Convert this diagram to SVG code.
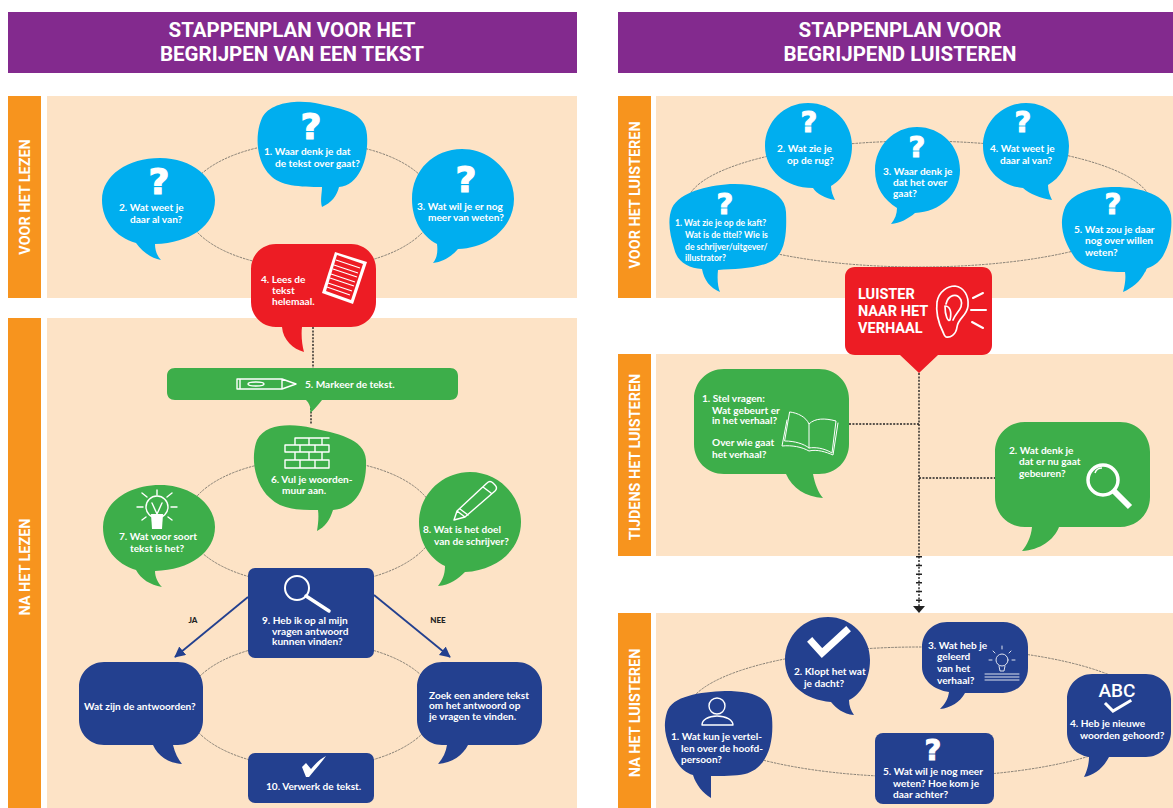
<svg xmlns="http://www.w3.org/2000/svg" width="1173" height="808" viewBox="0 0 1173 808">
<style>
.t{font-family:"Lato","Liberation Sans",sans-serif;font-weight:700;font-size:10.1px;fill:#fff}
.h{font-family:"Roboto","Liberation Sans",sans-serif;font-weight:700;font-size:20.5px;fill:#fff;text-anchor:middle}
.s{font-family:"Roboto","Liberation Sans",sans-serif;font-weight:700;font-size:14.4px;fill:#fff;text-anchor:middle}
.q{font-family:"DejaVu Sans",sans-serif;font-weight:700;font-size:36px;fill:#fff;text-anchor:middle;stroke:#fff;stroke-width:1.2}
.qs{font-size:29px;stroke-width:1}
.j{font-family:"Lato","Liberation Sans",sans-serif;font-weight:900;font-size:8px;fill:#222;text-anchor:middle}
.cy{fill:#00aeef}.rd{fill:#ed1c24}.gr{fill:#3dae4a}.nv{fill:#23408f}
.pe{fill:#fde3c6}.or{fill:#f7941e}.pu{fill:#832a8e}
.el{fill:none;stroke:#77736a;stroke-width:.9;stroke-dasharray:2.5 1}
.dt{fill:none;stroke:#222;stroke-width:1.4;stroke-dasharray:2 1.4}
.ar{fill:none;stroke:#23408f;stroke-width:1.8;marker-end:url(#ah)}
.i{fill:none;stroke:#fff;stroke-width:1.4;stroke-linecap:round;stroke-linejoin:round}
.ck{fill:none;stroke:#fff;stroke-linecap:square;stroke-linejoin:miter}
.sm{font-size:8.6px}
</style>
<defs>
<marker id="ah" markerWidth="7" markerHeight="7" refX="5.5" refY="3" orient="auto"><path d="M0,0L6,3L0,6Z" fill="#23408f"/></marker>
</defs>
<g id="panels">
<rect class="pu" x="8" y="12" width="569" height="61"/>
<rect class="pu" x="618" y="12" width="555" height="61"/>
<text class="h" x="292" y="37">STAPPENPLAN VOOR HET</text>
<text class="h" x="292" y="61">BEGRIJPEN VAN EEN TEKST</text>
<text class="h" x="900" y="37">STAPPENPLAN VOOR</text>
<text class="h" x="900" y="61">BEGRIJPEND LUISTEREN</text>
<rect class="or" x="8" y="96" width="33" height="202"/><rect class="pe" x="47" y="96" width="530" height="202"/>
<rect class="or" x="8" y="318" width="33" height="490"/><rect class="pe" x="47" y="318" width="530" height="490"/>
<rect class="or" x="618" y="96" width="33" height="202"/><rect class="pe" x="656" y="96" width="517" height="202"/>
<rect class="or" x="618" y="354" width="33" height="202"/><rect class="pe" x="656" y="354" width="517" height="202"/>
<rect class="or" x="618" y="613" width="33" height="195"/><rect class="pe" x="656" y="613" width="517" height="195"/>
<text class="s" transform="translate(30,197) rotate(-90)">VOOR HET LEZEN</text>
<text class="s" transform="translate(30,567) rotate(-90)">NA HET LEZEN</text>
<text class="s" transform="translate(640,195) rotate(-90)">VOOR HET LUISTEREN</text>
<text class="s" transform="translate(640,457) rotate(-90)">TIJDENS HET LUISTEREN</text>
<text class="s" transform="translate(640,713) rotate(-90)">NA HET LUISTEREN</text>
</g>
<g id="connectors">
<ellipse class="el" cx="310" cy="205" rx="125" ry="63"/>
<ellipse class="el" cx="311" cy="522" rx="125" ry="63"/>
<ellipse class="el" cx="311" cy="705" rx="125" ry="63"/>
<ellipse class="el" cx="919" cy="204" rx="232" ry="63"/>
<ellipse class="el" cx="919" cy="712" rx="232" ry="65"/>
<path class="dt" d="M313,327V368M311,408V425"/>
<path class="dt" d="M919,373V606M849,424H919M919,478H995"/>
<path d="M919,556V604" fill="none" stroke="#222" stroke-width="6" stroke-dasharray="1.5 7.2"/>
<path d="M913,606H925L919,613Z" fill="#222"/>
<path class="ar" d="M248,597L175,657"/>
<path class="ar" d="M374,595L450,657"/>
<text class="j" x="193" y="623">JA</text>
<text class="j" x="438" y="623">NEE</text>
</g>
<g id="l1"><path class="cy" d="M262,118C270,102 298,99 320,104C342,109 366,112 367,135C369,160 358,186 339,187C337,196 331,203 322,207C320,200 322,193 322,187C300,187 280,186 270,175C257,162 254,136 262,118Z"/>
<text class="q" x="311" y="139">?</text><text class="t" x="264" y="155">1. Waar denk je dat</text><text class="t" x="275" y="167">de tekst over gaat?</text></g>
<g id="l2"><path class="cy" d="M102,200C102,175 128,158 160,158C192,158 215,178 215,200C215,226 190,243 155,244C155,250 157,256 161,260C150,258 142,251 136,243C115,237 102,220 102,200Z"/>
<text class="q" x="159" y="194">?</text><text class="t" x="119" y="211">2. Wat weet je</text><text class="t" x="130" y="223">daar al van?</text></g>
<g id="l3"><path class="cy" d="M412,199C412,170 434,149 462,149C490,149 514,172 514,199C514,226 490,248 458,249C452,256 443,262 433,263C437,258 438,252 437,244C422,236 412,220 412,199Z"/>
<text class="q" x="466" y="192">?</text><text class="t" x="417" y="210">3. Wat wil je er nog</text><text class="t" x="428" y="221">meer van weten?</text></g>
<g id="l4"><path class="rd" d="M276,244H351C365,244 376,255 376,269V302C376,316 365,327 351,327H302C301,335 302,345 304,352C293,349 283,340 282,327H276C262,327 251,316 251,302V269C251,255 262,244 276,244Z"/>
<text class="t" x="261" y="283">4. Lees de</text><text class="t" x="272" y="294">tekst</text><text class="t" x="272" y="305">helemaal.</text>
<path d="M335,252L367,262L353,304L322,293Z" fill="#fff"/>
<path d="M337,255L363,264L351,300L326,291Z" fill="#ed1c24"/>
<path d="M336,260L360,268M334,265L358,273M333,269L357,277M331,274L355,282M330,278L354,286M328,283L352,291M327,287L350,295" stroke="#fff" stroke-width="1.2" fill="none"/></g>
<g id="l5"><path class="gr" d="M175,368H450C455,368 458,371 458,376V392C458,397 455,400 450,400H322C318,405 314,410 310,413C311,408 310,404 306,400H175C170,400 167,397 167,392V376C167,371 170,368 175,368Z"/>
<path class="i" d="M237,379H282L296,384L282,389H237Z M240,379V389M282,379V389"/>
<ellipse cx="256" cy="384" rx="8" ry="2" class="i"/>
<text class="t" x="305" y="388">5. Markeer de tekst.</text></g>
<g id="l6"><path class="gr" d="M257,440C265,424 290,423 312,428C335,433 365,438 366,460C367,485 358,508 333,510C330,520 325,527 317,531C318,525 319,517 318,510C300,510 282,510 270,498C255,485 250,458 257,440Z"/>
<path class="i" d="M295,438H329M295,438V445H322V438M309,438V445M285,445H329V452H285ZM300,445V452M315,445V452M295,452V460H322V452M309,452V460M285,460H329V468H285ZM300,460V468M315,460V468"/>
<text class="t" x="271" y="483">6. Vul je woorden-</text><text class="t" x="282" y="494">muur aan.</text></g>
<g id="l7"><path class="gr" d="M103,527C103,503 128,485 160,485C192,485 215,505 215,527C215,552 190,570 155,571C155,577 158,583 162,587C150,585 141,579 136,570C116,564 103,548 103,527Z"/>
<circle class="i" cx="157" cy="507" r="11"/><path d="M151,514L163,514L162,529H152Z" fill="#fff"/><path class="i" d="M152,503L157,514L162,503M143,507H137M177,507H171M147,497L142,493M167,497L172,493M157,495V490M146,517L142,520M168,517L172,520"/>
<text class="t" x="119" y="540">7. Wat voor soort</text><text class="t" x="130" y="552">tekst is het?</text></g>
<g id="l8"><path class="gr" d="M419,522C419,495 442,472 470,472C498,472 521,495 521,522C521,549 498,570 465,572C458,579 450,585 438,586C442,581 445,575 445,566C429,558 419,542 419,522Z"/>
<path class="i" d="M454,520L457,511L487,483C489,481 491,481 493,483L495,485C497,487 497,489 495,491L465,517ZM457,511L465,517M460,509L468,515M483,487L491,493"/>
<text class="t" x="423" y="533">8. Wat is het doel</text><text class="t" x="434" y="545">van de schrijver?</text></g>
<g id="l9"><rect class="nv" x="248" y="568" width="126" height="90" rx="7"/>
<circle cx="297" cy="588" r="12" fill="none" stroke="#fff" stroke-width="2"/><path d="M306,596L329,611" stroke="#fff" stroke-width="3.5" stroke-linecap="round"/>
<text class="t" x="262" y="624">9. Heb ik op al mijn</text><text class="t" x="272" y="635">vragen antwoord</text><text class="t" x="272" y="645">kunnen vinden?</text></g>
<g id="l9a"><path class="nv" d="M104,662H178C192,662 203,673 203,687V720C203,734 192,745 178,745H173C175,753 178,759 182,764C168,763 158,756 153,745H104C90,745 79,734 79,720V687C79,673 90,662 104,662Z"/>
<text class="t" x="84" y="710">Wat zijn de antwoorden?</text></g>
<g id="l9b"><path class="nv" d="M442,662H517C531,662 542,673 542,687V720C542,734 531,745 517,745H468C463,755 452,763 438,764C443,758 446,752 447,745H442C428,745 417,734 417,720V687C417,673 428,662 442,662Z"/>
<text class="t" x="429" y="699">Zoek een andere tekst</text><text class="t" x="429" y="709">om het antwoord op</text><text class="t" x="429" y="720">je vragen te vinden.</text></g>
<g id="l10"><rect class="nv" x="248" y="753" width="126" height="50" rx="7"/>
<path d="M302,767L306,763L311,769C315,764 320,759 326,756C321,763 314,771 309,777H306Z" fill="#fff"/>
<text class="t" x="266" y="790">10. Verwerk de tekst.</text></g>
<g id="r1"><path class="cy" d="M672,208C680,192 706,186 730,184C755,183 785,190 786,212C787,235 785,255 770,262C755,269 735,269 718,270C717,280 718,287 720,292C710,288 704,280 702,269C688,268 677,262 674,248C670,235 667,220 672,208Z"/>
<text class="q qs" x="725" y="214">?</text><text class="t sm" x="675" y="226">1. Wat zie je op de kaft?</text><text class="t sm" x="685" y="238">Wat is de titel? Wie is</text><text class="t sm" x="685" y="250">de schrijver/uitgever/</text><text class="t sm" x="685" y="261">illustrator?</text></g>
<g id="r2"><path class="cy" d="M765,146C765,122 784,103 808,103C833,103 852,122 852,146C852,165 842,180 831,186C831,191 833,196 835,200C825,198 817,194 813,188C785,188 765,170 765,146Z"/>
<text class="q qs" x="809" y="132">?</text><text class="t" x="777" y="152">2. Wat zie je</text><text class="t" x="787" y="164">op de rug?</text></g>
<g id="r3"><path class="cy" d="M875,170C875,146 894,127 917,127C941,127 960,146 960,170C960,194 940,212 915,213C908,219 900,223 891,224C895,219 897,214 897,208C884,200 875,187 875,170Z"/>
<text class="q qs" x="917" y="157">?</text><text class="t" x="883" y="175">3. Waar denk je</text><text class="t" x="893" y="186">dat het over</text><text class="t" x="893" y="197">gaat?</text></g>
<g id="r4"><path class="cy" d="M983,146C983,122 1002,103 1026,103C1050,103 1069,122 1069,146C1069,165 1060,178 1048,185C1048,191 1050,196 1052,200C1040,198 1030,194 1023,188C1000,186 983,168 983,146Z"/>
<text class="q qs" x="1023" y="132">?</text><text class="t" x="990" y="152">4. Wat weet je</text><text class="t" x="1000" y="164">daar al van?</text></g>
<g id="r5"><path class="cy" d="M1064,210C1070,192 1095,187 1115,187C1140,187 1168,195 1171,215C1173,232 1168,262 1148,268C1146,268 1146,272 1145,272C1140,282 1132,288 1123,292C1125,285 1126,278 1125,272C1105,272 1085,270 1075,258C1066,245 1058,228 1064,210Z"/>
<text class="q qs" x="1113" y="214">?</text><text class="t" x="1074" y="233">5. Wat zou je daar</text><text class="t" x="1085" y="244">nog over willen</text><text class="t" x="1085" y="256">weten?</text></g>
<g id="rred"><path class="rd" d="M855,267H982C988,267 992,271 992,277V345C992,351 988,355 982,355H938L919,373L900,355H855C849,355 845,351 845,345V277C845,271 849,267 855,267Z"/>
<text class="h" x="858" y="299" style="text-anchor:start;font-size:14.5px">LUISTER</text><text class="h" x="858" y="316" style="text-anchor:start;font-size:14.5px">NAAR HET</text><text class="h" x="858" y="333" style="text-anchor:start;font-size:14.5px">VERHAAL</text>
<path class="i" d="M943,332C938,322 936,310 937,302C939,291 948,286 955,286C964,287 969,296 968,306C967,316 958,318 957,327C956,335 950,338 946,337C944,336 944,334 943,332ZM946,304C948,295 957,292 961,300C964,308 956,312 953,320M945,306C950,306 952,312 950,320C948,322 945,316 945,306Z" style="stroke-width:1.7"/>
<path class="i" d="M973,298L983,293M971,310H986M972,322L983,328" style="stroke-width:2"/></g>
<g id="rt1"><path class="gr" d="M724,369H819C836,369 849,382 849,399V444C849,461 836,474 819,474H813C815,484 818,492 823,498C806,497 792,488 786,474H724C707,474 694,461 694,444V399C694,382 707,369 724,369Z"/>
<text class="t" x="702" y="402">1. Stel vragen:</text><text class="t" x="712" y="414">Wat gebeurt er</text><text class="t" x="712" y="424">in het verhaal?</text><text class="t" x="712" y="446">Over wie gaat</text><text class="t" x="712" y="458">het verhaal?</text>
<path class="i" d="M790,412C798,413 806,417 809,424C815,418 825,418 836,421L832,453C824,448 815,447 809,448C804,444 795,441 785,441ZM809,424V448M787,420L782,446C792,445 802,447 809,451C817,449 826,452 833,455L838,423" style="stroke-width:1"/></g>
<g id="rt2"><path class="gr" d="M1025,422H1120C1137,422 1150,435 1150,452V497C1150,514 1137,527 1120,527H1059C1054,540 1040,550 1022,551C1027,545 1031,537 1032,527H1025C1008,527 995,514 995,497V452C995,435 1008,422 1025,422Z"/>
<text class="t" x="1009" y="454">2. Wat denk je</text><text class="t" x="1019" y="465">dat er nu gaat</text><text class="t" x="1019" y="477">gebeuren?</text>
<circle cx="1103" cy="480" r="15" fill="none" stroke="#fff" stroke-width="3.5"/><path d="M1095,473C1096,470 1099,468 1102,468" fill="none" stroke="#fff" stroke-width="1.5"/><path d="M1114,491L1130,507" stroke="#fff" stroke-width="6"/></g>
<g id="rn1"><path class="nv" d="M667,712C672,696 700,692 725,691C750,691 770,695 772,718C774,742 768,768 745,774C735,776 722,776 711,776C711,785 711,792 711,798C703,793 696,785 693,775C682,772 675,762 670,748C665,735 663,725 667,712Z"/>
<circle class="i" cx="717" cy="706" r="8"/><path class="i" d="M702,725C702,720 708,716 717,716C726,716 733,720 733,725Z"/>
<text class="t" x="671" y="740">1. Wat kun je vertel-</text><text class="t" x="681" y="752">len over de hoofd-</text><text class="t" x="681" y="763">persoon?</text></g>
<g id="rn2"><path class="nv" d="M785,660C785,636 804,617 828,617C851,617 870,636 870,660C870,680 860,695 849,700C849,706 851,711 854,715C843,714 836,708 831,702C805,700 785,684 785,660Z"/>
<path class="ck" d="M812,642L822,653L846,631" stroke-width="7"/>
<text class="t" x="794" y="675">2. Klopt het wat</text><text class="t" x="804" y="687">je dacht?</text></g>
<g id="rn3"><path class="nv" d="M947,622H1003C1017,622 1028,633 1028,647V668C1028,682 1017,693 1003,693H965C960,702 951,708 940,709C945,704 948,699 949,692C934,690 922,680 922,667V647C922,633 933,622 947,622Z"/>
<text class="t" x="928" y="649">3. Wat heb je</text><text class="t" x="937" y="660">geleerd</text><text class="t" x="937" y="672">van het</text><text class="t" x="937" y="684">verhaal?</text>
<g style="opacity:.85"><circle class="i" cx="1002" cy="660" r="6" style="stroke-width:1"/><path class="i" d="M999,666L1000,671H1004L1005,666M989,660H992M1012,660H1015M993,651L995,653M1011,651L1009,653M1002,646V649M985,674H1019M985,677H1019M985,680H1019" style="stroke-width:1"/></g></g>
<g id="rn4"><path class="nv" d="M1092,674H1146C1160,674 1171,685 1171,699V732C1171,746 1160,757 1146,757H1109C1104,767 1095,775 1084,777C1087,771 1089,764 1089,757C1076,755 1067,745 1067,732V699C1067,685 1078,674 1092,674Z"/>
<text x="1117" y="697" style="font-family:'Roboto',sans-serif;font-weight:500;font-size:19px;fill:#fff;text-anchor:middle">ABC</text>
<path class="ck" d="M1106,704L1113,711L1130,701" stroke-width="3"/>
<text class="t" x="1070" y="727">4. Heb je nieuwe</text><text class="t" x="1080" y="739">woorden gehoord?</text></g>
<g id="rn5"><rect class="nv" x="875" y="733" width="119" height="71" rx="8"/>
<text class="q qs" x="933" y="760">?</text><text class="t" x="883" y="775">5. Wat wil je nog meer</text><text class="t" x="893" y="787">weten? Hoe kom je</text><text class="t" x="893" y="798">daar achter?</text></g>
</svg>
